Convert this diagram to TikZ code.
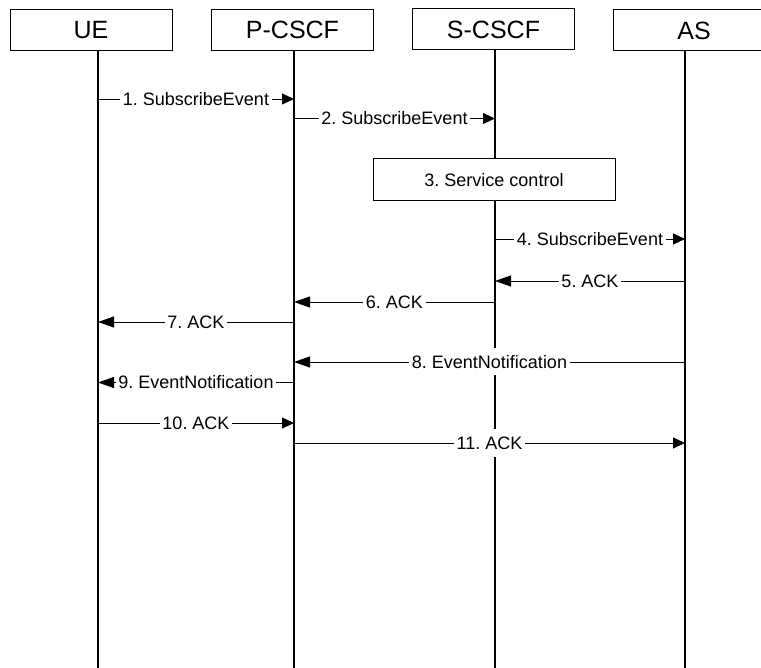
\documentclass[tikz,border=0pt]{standalone}
\usepackage{fontspec}
\setmainfont{Liberation Sans}
\usetikzlibrary{arrows.meta}
\frenchspacing
\begin{document}
\frenchspacing
\begin{tikzpicture}[x=1pt,y=-1pt,
  entity/.style={draw,line width=1pt,minimum width=162pt,minimum height=41pt,inner sep=0pt,
    font=\fontsize{25}{28}\selectfont},
  life/.style={line width=1.1pt},
  msgr/.style={line width=0.9pt,-{Triangle[length=12pt,width=11pt]}},
  msgl/.style={line width=0.9pt,-{Triangle[length=16pt,width=11pt]}},
  lbl/.style={fill=white,inner xsep=2.5pt,inner ysep=7pt,text height=13pt,text depth=0pt,
    font=\fontsize{18}{20}\selectfont\frenchspacing},
  actbox/.style={draw,fill=white,line width=1pt,minimum width=242pt,minimum height=42pt,
    font=\fontsize{18}{20}\selectfont\frenchspacing}]
\useasboundingbox (0,0) rectangle (761,668);
% entities
\node[entity] (UE) at (91,30) {UE};
\node[entity] (PC) at (292.5,30) {P-CSCF};
\node[entity] (SC) at (493.5,29.5) {S-CSCF};
\node[entity] (AS) at (694,30.5) {AS};
% lifeline tops and bottoms
\coordinate (ue0) at (98,50);   \coordinate (ue1) at (98,668);
\coordinate (pc0) at (294,50);  \coordinate (pc1) at (294,668);
\coordinate (sc0) at (495,50);  \coordinate (sc1) at (495,668);
\coordinate (as0) at (685,51);  \coordinate (as1) at (685,668);
\draw[life] (ue0) -- (ue1);
\draw[life] (pc0) -- (pc1);
\draw[life] (sc0) -- (sc1);
\draw[life] (as0) -- (as1);
% rows
\coordinate (r1) at (0,99);
\coordinate (r2) at (0,118.5);
\coordinate (r4) at (0,239);
\coordinate (r5) at (0,281);
\coordinate (r6) at (0,302);
\coordinate (r7) at (0,322);
\coordinate (r8) at (0,362);
\coordinate (r9) at (0,382.5);
\coordinate (r10) at (0,423);
\coordinate (r11) at (0,443);
% messages
\draw[msgr] (ue0 |- r1) -- node[lbl]{1. SubscribeEvent} (pc0 |- r1);
\draw[msgr] (pc0 |- r2) -- node[lbl]{2. SubscribeEvent} (sc0 |- r2);
\node[actbox] (svc) at (494,180) {3. Service control};
\draw[msgr] (sc0 |- r4) -- node[lbl]{4. SubscribeEvent} (as0 |- r4);
\draw[msgl] (as0 |- r5) -- node[lbl]{5. ACK} (sc0 |- r5);
\draw[msgl] (sc0 |- r6) -- node[lbl]{6. ACK} (pc0 |- r6);
\draw[msgl] (pc0 |- r7) -- node[lbl]{7. ACK} (ue0 |- r7);
\draw[msgl] (as0 |- r8) -- node[lbl]{8. EventNotification} (pc0 |- r8);
\draw[msgl] (pc0 |- r9) -- node[lbl]{9. EventNotification} (ue0 |- r9);
\draw[msgr] (ue0 |- r10) -- node[lbl]{10. ACK} (pc0 |- r10);
\draw[msgr] (pc0 |- r11) -- node[lbl]{11. ACK} (as0 |- r11);
\end{tikzpicture}
\end{document}
